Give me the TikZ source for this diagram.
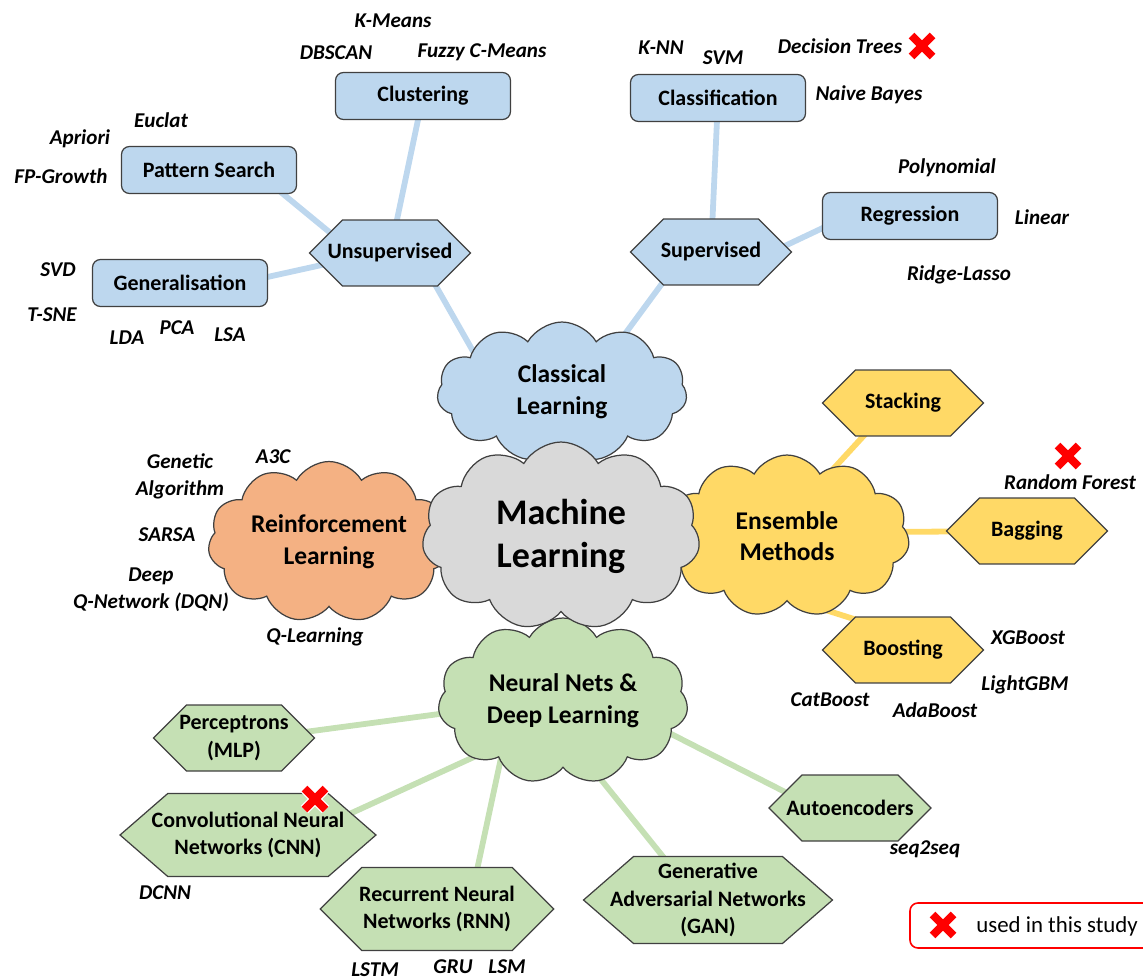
\documentclass[tikz,border=0pt]{standalone}
\usepackage{fontspec}
\setmainfont{Carlito}
\usetikzlibrary{shapes.symbols,backgrounds}

\definecolor{clblue}{HTML}{BDD7EE}
\definecolor{rlorange}{HTML}{F4B183}
\definecolor{mlgrey}{HTML}{D9D9D9}
\definecolor{enyellow}{HTML}{FFD966}
\definecolor{nngreen}{HTML}{C5E0B4}
\definecolor{rim}{HTML}{404040}
\definecolor{crossred}{HTML}{FF0000}

\tikzset{
    topic/.style={draw=rim, line width=0.7pt, rounded corners=4.5pt, minimum width=3.5cm, minimum height=0.94cm, inner sep=0pt, font=\bfseries\fontsize{12.5}{15.5}\selectfont},
    hexa/.style={shape=signal, signal to=east and west, signal pointer angle=90, draw=rim, line width=0.7pt, inner sep=0pt, align=center, minimum width=3.22cm, minimum height=1.32cm, font=\bfseries\fontsize{12.5}{15.5}\selectfont},
    blob/.style={shape=cloud, cloud puffs=11, cloud puff arc=120, cloud ignores aspect, draw=rim, line width=0.7pt, inner sep=0pt, align=center, font=\bfseries\fontsize{14.5}{18}\selectfont},
    algo/.style={font=\bfseries\itshape\fontsize{12}{15.3}\selectfont, align=center, inner sep=0pt},
    link/.style={line width=3.3pt, shorten <=-4pt, shorten >=-8pt},
    usedmark/.pic={
        \draw[white, line width=6pt] (-10.5,-10.5) -- (10.5,10.5) (-10.5,10.5) -- (10.5,-10.5);
        \draw[crossred, line width=4.6pt] (-10.5,-10.5) -- (10.5,10.5) (-10.5,10.5) -- (10.5,-10.5);
    }
}

\begin{document}
\begin{tikzpicture}[x=0.02cm, y=-0.02cm]
    \useasboundingbox (0,0) rectangle (1143,980);

    % classical learning
    \node[topic, fill=clblue] (clus) at (423,96) {Clustering};
    \node[topic, fill=clblue] (pat) at (209,170) {Pattern Search};
    \node[topic, fill=clblue] (gen) at (180,283) {Generalisation};
    \node[hexa, fill=clblue, inner xsep=-0.33cm] (unsup) at (390,253) {Unsupervised};
    \node[topic, fill=clblue] (cls) at (718,98) {Classification};
    \node[topic, fill=clblue] (reg) at (910,216) {Regression};
    \node[hexa, fill=clblue, inner xsep=-0.09cm] (sup) at (711,252) {Supervised};

    \node[algo] (kmeans) at (393,21) {K-Means};
    \node[algo] (dbscan) at (336,53) {DBSCAN};
    \node[algo] (fuzzy) at (482,52) {Fuzzy C-Means};
    \node[algo] (euclat) at (161,120) {Euclat};
    \node[algo] (apriori) at (80,139) {Apriori};
    \node[algo] (fpg) at (61,176) {FP-Growth};
    \node[algo] (svd) at (58,270) {SVD};
    \node[algo] (tsne) at (52,315) {T-SNE};
    \node[algo] (lda) at (127,338) {LDA};
    \node[algo] (pca) at (177,328) {PCA};
    \node[algo] (lsa) at (230,335) {LSA};
    \node[algo] (knn) at (661,48) {K-NN};
    \node[algo] (svm) at (723,58) {SVM};
    \node[algo] (dtree) at (840,46) {Decision Trees};
    \node[algo] (bayes) at (869,95) {Naive Bayes};
    \node[algo] (poly) at (947,168) {Polynomial};
    \node[algo] (linear) at (1042,217) {Linear};
    \node[algo] (ridge) at (959,275) {Ridge-Lasso};

    % ensemble methods
    \node[hexa, fill=enyellow] (stack) at (903,403) {Stacking};
    \node[hexa, fill=enyellow] (bag) at (1027,531) {Bagging};
    \node[hexa, fill=enyellow] (boost) at (903,650) {Boosting};
    \node[algo] (rforest) at (1070,482) {Random Forest};
    \node[algo] (xgb) at (1028,638) {XGBoost};
    \node[algo] (lgbm) at (1025,685) {LightGBM};
    \node[algo] (catb) at (830,700) {CatBoost};
    \node[algo] (adab) at (935,710) {AdaBoost};

    % reinforcement learning
    \node[algo] (genetic) at (180,476) {Genetic\\Algorithm};
    \node[algo] (athreec) at (273,457) {A3C};
    \node[algo] (sarsa) at (167,535) {SARSA};
    \node[algo] (dqn) at (151,590) {Deep\\Q-Network (DQN)};
    \node[algo] (qlearn) at (315,637) {Q-Learning};

    % neural nets
    \node[hexa, fill=nngreen, inner xsep=-0.15cm] (perc) at (234,738) {Perceptrons\\(MLP)};
    \node[hexa, fill=nngreen, signal pointer angle=82, inner xsep=-0.33cm, minimum width=5.12cm, minimum height=1.66cm] (cnn) at (248,835) {Convolutional Neural\\Networks (CNN)};
    \node[hexa, fill=nngreen, inner xsep=-0.05cm, minimum width=4.66cm, minimum height=1.66cm] (rnn) at (437,909) {Recurrent Neural\\Networks (RNN)};
    \node[hexa, fill=nngreen, signal pointer angle=82, inner xsep=-0.47cm, minimum width=4.98cm, minimum height=1.74cm] (gan) at (708,900) {Generative\\Adversarial Networks\\(GAN)};
    \node[hexa, fill=nngreen, inner xsep=-0.31cm] (auto) at (850,808) {Autoencoders};
    \node[algo] (dcnn) at (165,893) {DCNN};
    \node[algo] (lstm) at (375,970) {LSTM};
    \node[algo] (gru) at (453,967) {GRU};
    \node[algo] (lsm) at (507,967) {LSM};
    \node[algo] (seqseq) at (925,849) {seq2seq};

    % clouds
    \node[blob, fill=clblue, minimum width=5cm, minimum height=2.8cm] (cl) at (562,392) {Classical\\Learning};
    \node[blob, fill=rlorange, minimum width=4.84cm, minimum height=3.22cm] (rl) at (329,542) {Reinforcement\\Learning};
    \node[blob, fill=enyellow, minimum width=4.9cm, minimum height=3.24cm] (ens) at (787,536) {Ensemble\\Methods};
    \node[blob, fill=nngreen, minimum width=5cm, minimum height=3.32cm] (nn) at (563,701) {Neural Nets \&\\Deep Learning};
    \node[blob, fill=mlgrey, minimum width=5.56cm, minimum height=3.76cm, font=\bfseries\fontsize{20.5}{24.5}\selectfont] (ml) at (561,536) {Machine\\Learning};

    \begin{scope}[on background layer]
        \draw[link, clblue] (clus) -- (unsup);
        \draw[link, clblue] (pat.-18) -- (unsup.161);
        \draw[link, clblue] (gen.4) -- (unsup.190);
        \draw[link, clblue] (unsup.-36) -- (cl.155);
        \draw[link, clblue] (cls) -- (sup);
        \draw[link, clblue] (reg.188) -- (sup.5);
        \draw[link, clblue] (sup.213) -- (cl.43);
        \draw[link, enyellow] (stack.220) -- (ens.55);
        \draw[link, enyellow] (ens.2) -- (bag);
        \draw[link, enyellow] (boost.148) -- (ens.300);
        \draw[link, nngreen] (perc.5) -- (nn.186);
        \draw[link, nngreen] (cnn.12) -- (nn.212);
        \draw[link, nngreen] (rnn.46) -- (nn.224);
        \draw[link, nngreen] (gan.136) -- (nn.296);
        \draw[link, nngreen] (auto.166) -- (nn.343);
    \end{scope}

    % used in this study
    \pic at (922,46) {usedmark};
    \pic at (1068,456) {usedmark};
    \pic at (315,799) {usedmark};
    \draw[crossred, line width=0.9pt, rounded corners=4.5pt] (910,903) rectangle (1175,948);
    \pic at (943,925) {usedmark};
    \node[anchor=west, inner sep=0pt, font=\fontsize{13}{15}\selectfont] (keytext) at (976,926) {used in this study};
\end{tikzpicture}
\end{document}
